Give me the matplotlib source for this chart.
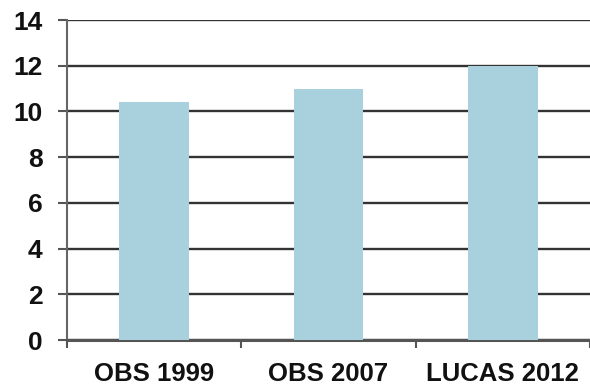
import matplotlib
matplotlib.use("Agg")
import matplotlib.pyplot as plt
import numpy as np

categories = ["OBS 1999", "OBS 2007", "LUCAS 2012"]
values = [10.4, 11.0, 12.0]
yticks = [0, 2, 4, 6, 8, 10, 12, 14]

plt.rcParams['font.family'] = ['Liberation Sans', 'DejaVu Sans']

fig = plt.figure(figsize=(5.9, 3.87), dpi=100)
ax = fig.add_axes([67/590, 1-340/387, 1-67/590, (340-20)/387])

x = np.arange(len(categories))
ax.bar(x, values, width=0.4, color="#a8d0dd", zorder=3)

ax.set_xlim(-0.5, len(categories) - 0.5)
ax.set_ylim(0, 14)
ax.set_yticks(yticks)
ax.set_yticklabels([str(v) for v in yticks], fontsize=19, fontweight="bold")
ax.set_xticks(x)
ax.set_xticklabels(categories, fontsize=18.5, fontweight="bold")
ax.set_xticks(np.arange(-0.5, len(categories) - 0.5 + 0.01, 1.0), minor=True)

ax.yaxis.grid(True, color="#333333", linewidth=1.7, zorder=1)
ax.set_axisbelow(True)

for s in ["top", "right"]:
    ax.spines[s].set_visible(False)
ax.spines["left"].set_color("#666666")
ax.spines["left"].set_linewidth(1.5)
ax.spines["bottom"].set_color("#555555")
ax.spines["bottom"].set_linewidth(2.2)

ax.tick_params(axis="y", length=6.5, width=1.5, color="#555555", pad=11, labelcolor="#111111")
ax.tick_params(axis="x", which="major", length=0, pad=16, labelcolor="#111111")
ax.tick_params(axis="x", which="minor", length=6, width=1.5, color="#555555")

fig.savefig("out.png", dpi=100)
